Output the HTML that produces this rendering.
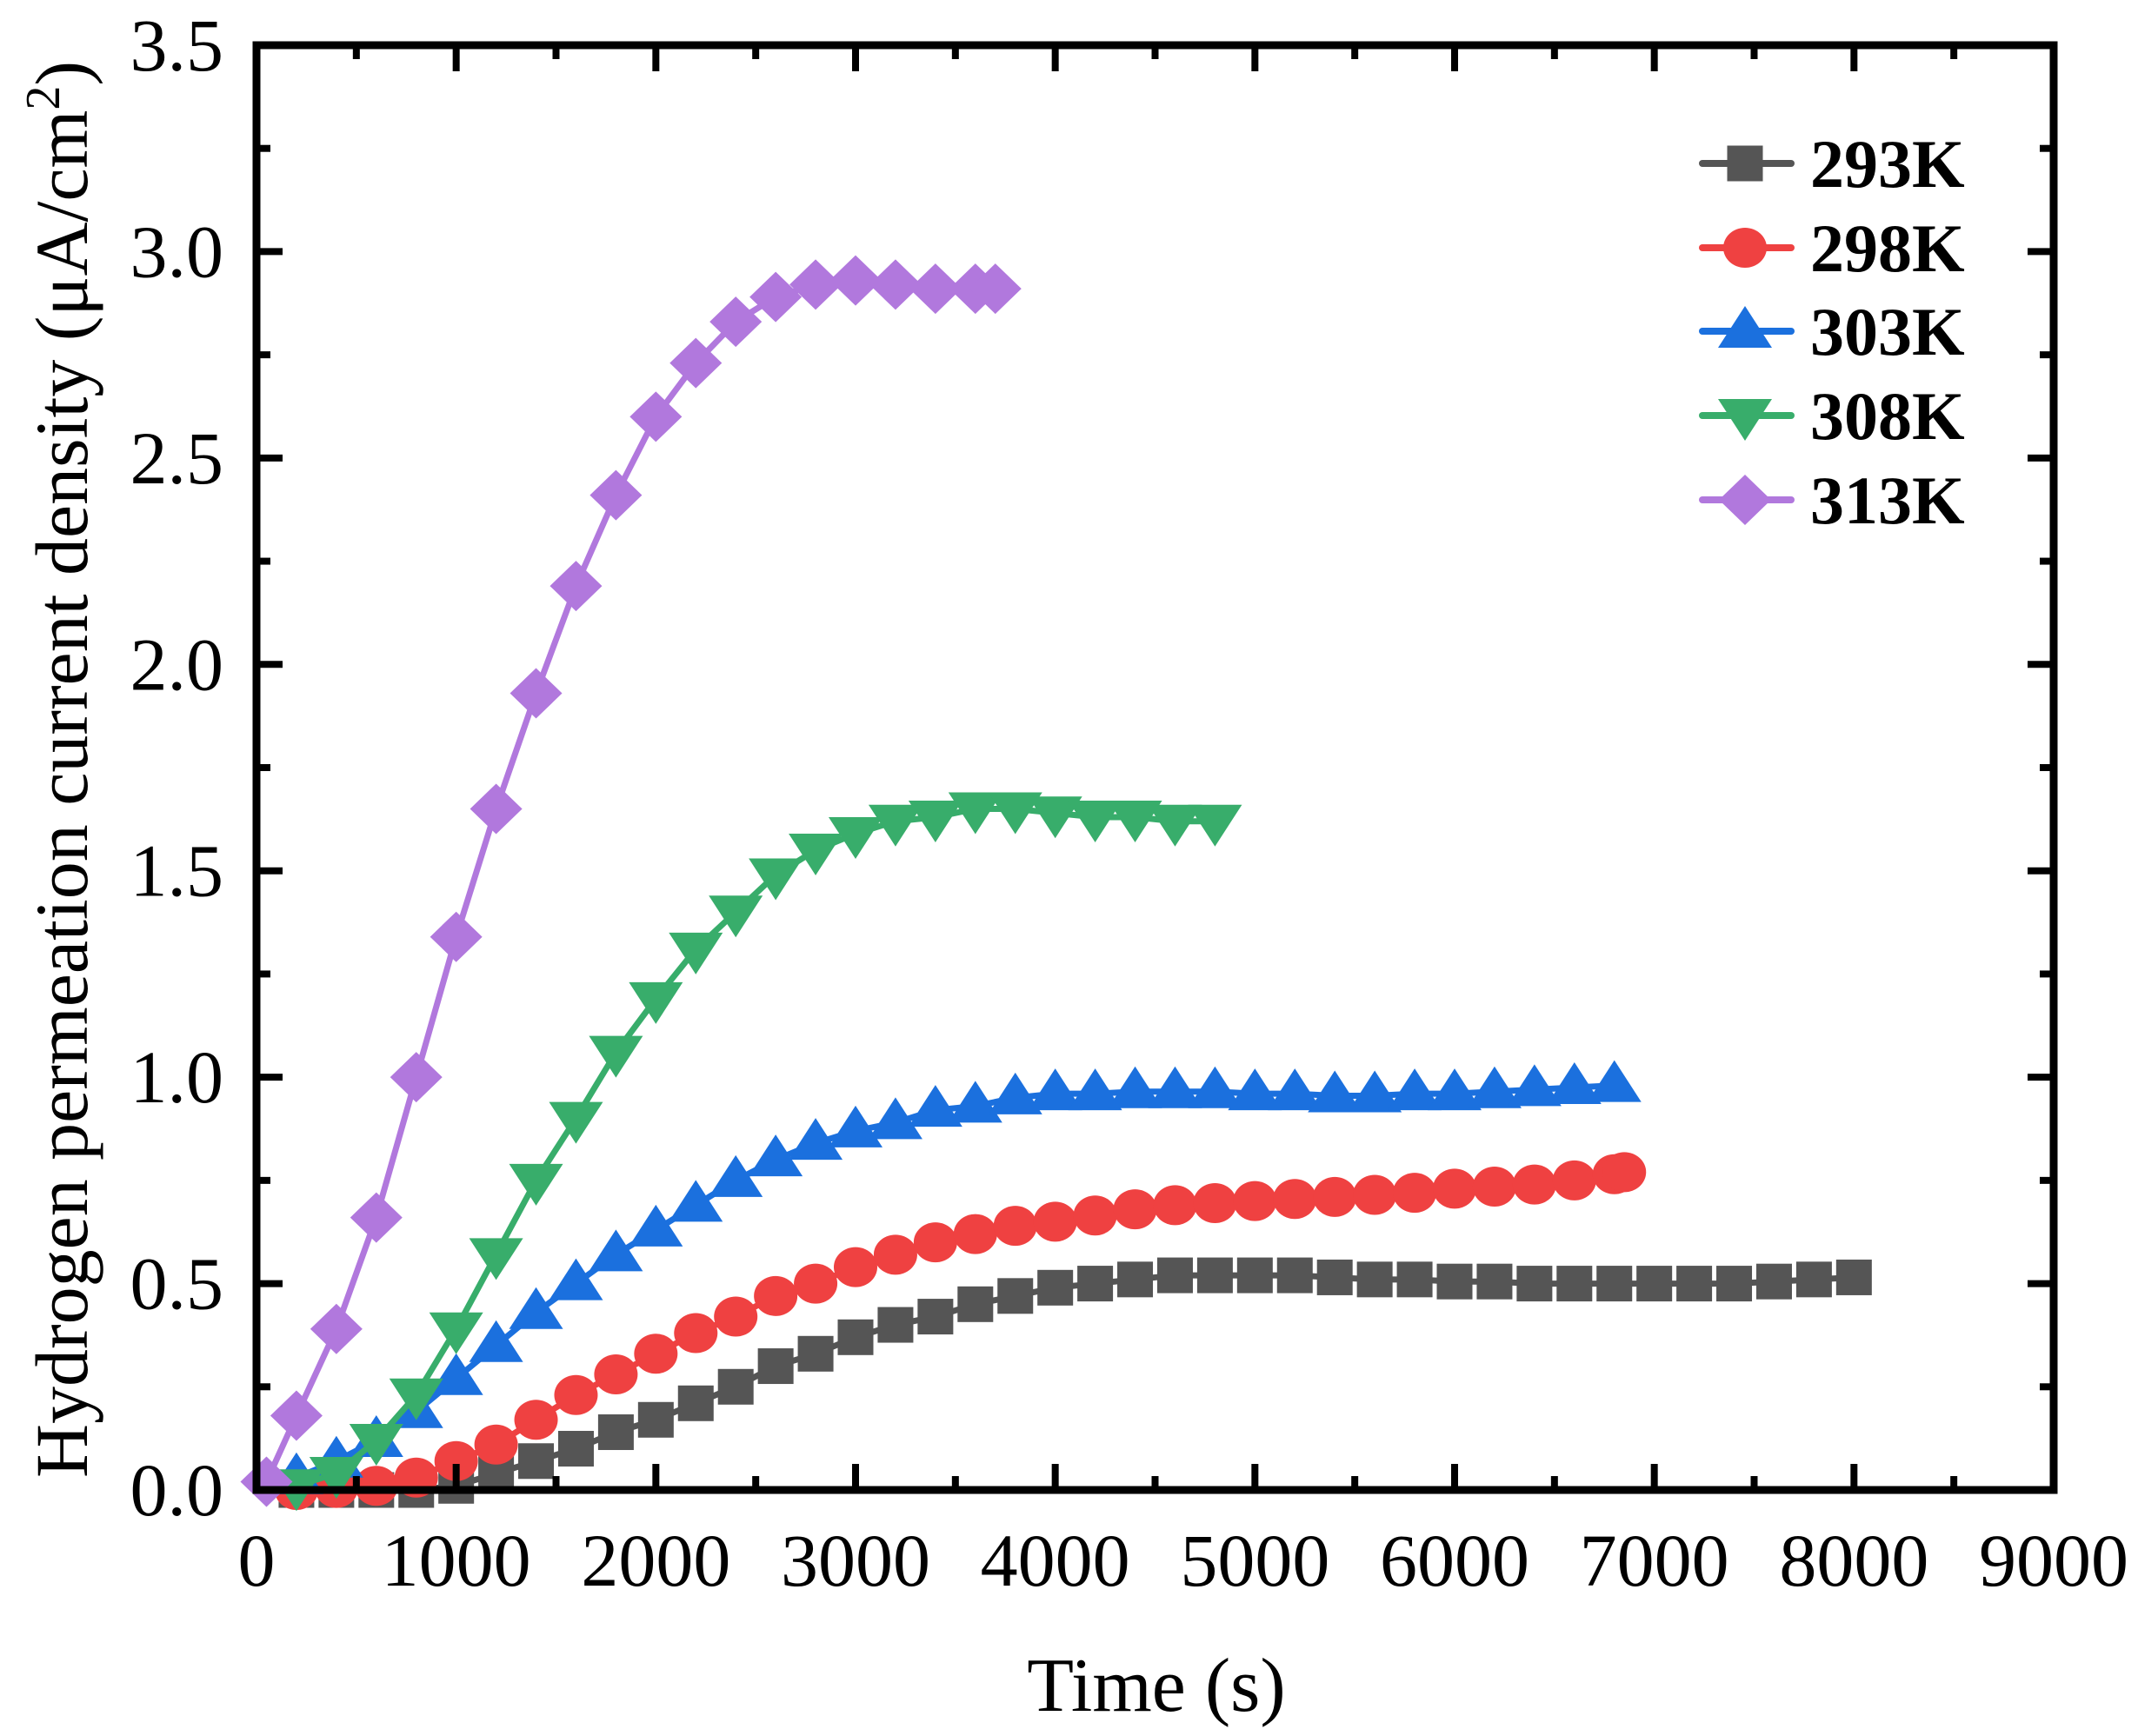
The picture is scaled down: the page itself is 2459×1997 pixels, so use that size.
<!DOCTYPE html>
<html><head><meta charset="utf-8"><style>
html,body{margin:0;padding:0;background:#fff;}
svg{display:block;}
text{font-family:"Liberation Serif","Times New Roman",serif;fill:#000;}
</style></head><body>
<svg id="chart" width="2459" height="1997" viewBox="0 0 2459 1997" xmlns="http://www.w3.org/2000/svg">
<g id="series-layer"></g>
<g id="axes-layer"></g>
<g id="legend"></g>
<text x="1330" y="1968" font-size="88" text-anchor="middle">Time (s)</text>
<text transform="translate(100,885) rotate(-90)" font-size="86" text-anchor="middle" textLength="1630" lengthAdjust="spacingAndGlyphs">Hydrogen permeation current density (μA/cm<tspan font-size="56" dy="-32">2</tspan><tspan dy="32">)</tspan></text>
</svg>
<script>
const xTicks = [0,1000,2000,3000,4000,5000,6000,7000,8000,9000];
const yTicks = [0.0,0.5,1.0,1.5,2.0,2.5,3.0,3.5];
const yTickLabels = ["0.0","0.5","1.0","1.5","2.0","2.5","3.0","3.5"];
const seriesNames = ["293K","298K","303K","308K","313K"];
const seriesColors = ["#555555","#EF4141","#1B70DE","#38AD6B","#B178DD"];
const seriesShapes = ["square","circle","up","down","diamond"];
const t293 = [200,400,600,800,1000,1200,1400,1600,1800,2000,2200,2400,2600,2800,3000,3200,3400,3600,3800,4000,4200,4400,4600,4800,5000,5200,5400,5600,5800,6000,6200,6400,6600,6800,7000,7200,7400,7600,7800,8000];
const v293 = [0,0,0,0,0.01,0.04,0.07,0.10,0.14,0.17,0.21,0.25,0.30,0.33,0.37,0.40,0.42,0.45,0.47,0.49,0.50,0.51,0.52,0.52,0.52,0.52,0.515,0.51,0.51,0.505,0.505,0.50,0.50,0.50,0.50,0.50,0.50,0.505,0.51,0.515];
const t298 = [200,400,600,800,1000,1200,1400,1600,1800,2000,2200,2400,2600,2800,3000,3200,3400,3600,3800,4000,4200,4400,4600,4800,5000,5200,5400,5600,5800,6000,6200,6400,6600,6800,6850];
const v298 = [0,0.005,0.01,0.03,0.07,0.11,0.17,0.23,0.28,0.33,0.38,0.42,0.47,0.50,0.54,0.57,0.60,0.62,0.64,0.65,0.665,0.68,0.69,0.695,0.70,0.705,0.71,0.715,0.72,0.73,0.735,0.74,0.75,0.765,0.77];
const t303 = [200,400,600,800,1000,1200,1400,1600,1800,2000,2200,2400,2600,2800,3000,3200,3400,3600,3800,4000,4200,4400,4600,4800,5000,5200,5400,5600,5800,6000,6200,6400,6600,6800];
const v303 = [0.03,0.07,0.12,0.19,0.27,0.35,0.43,0.50,0.57,0.63,0.69,0.75,0.80,0.84,0.87,0.89,0.92,0.93,0.95,0.96,0.96,0.965,0.965,0.965,0.96,0.96,0.955,0.955,0.96,0.96,0.965,0.97,0.975,0.98];
const t308 = [200,400,600,800,1000,1200,1400,1600,1800,2000,2200,2400,2600,2800,3000,3200,3400,3600,3800,4000,4200,4400,4600,4800];
const v308 = [0.01,0.04,0.12,0.23,0.39,0.57,0.75,0.90,1.06,1.19,1.31,1.40,1.49,1.55,1.59,1.62,1.63,1.65,1.65,1.64,1.63,1.63,1.62,1.62];
const t313 = [50,200,400,600,800,1000,1200,1400,1600,1800,2000,2200,2400,2600,2800,3000,3200,3400,3600,3700];
const v313 = [0.02,0.18,0.39,0.66,1.0,1.34,1.65,1.93,2.19,2.41,2.60,2.73,2.83,2.89,2.92,2.93,2.92,2.91,2.91,2.91];
const seriesT = [t293,t298,t303,t308,t313];
const seriesV = [v293,v298,v303,v308,v313];

const NS="http://www.w3.org/2000/svg";
const L=295,R=2362,T=52,B=1714;
const xMax=9000,yMax=3.5;
function sx(v){return L+(R-L)*v/xMax;}
function sy(v){return B-(B-T)*v/yMax;}
function mk(tag,attrs,parent){const e=document.createElementNS(NS,tag);for(const k in attrs)e.setAttribute(k,attrs[k]);parent.appendChild(e);return e;}
function marker(shape,x,y,color,parent){
  let e;
  if(shape==="square") e=mk("rect",{x:x-20.5,y:y-20.5,width:41,height:41,fill:color},parent);
  else if(shape==="circle") e=mk("ellipse",{cx:x,cy:y,rx:25,ry:23,fill:color},parent);
  else if(shape==="up") e=mk("polygon",{points:`${x},${y-29} ${x-31},${y+19} ${x+31},${y+19}`,fill:color},parent);
  else if(shape==="down") e=mk("polygon",{points:`${x},${y+29} ${x-31},${y-19} ${x+31},${y-19}`,fill:color},parent);
  else e=mk("polygon",{points:`${x},${y-29} ${x+30},${y} ${x},${y+29} ${x-30},${y}`,fill:color},parent);
  return e;
}
const sl=document.getElementById("series-layer");
for(let s=0;s<seriesNames.length;s++){
  const g=mk("g",{},sl);
  
  
  const pts=seriesT[s].map((t,i)=>sx(t)+","+sy(seriesV[s][i])).join(" ");
  const pl=mk("polyline",{points:pts,fill:"none",stroke:seriesColors[s],"stroke-width":7,"stroke-linejoin":"round"},g);
  
  
  for(let i=0;i<seriesT[s].length;i++){
    const m=marker(seriesShapes[s],sx(seriesT[s][i]),sy(seriesV[s][i]),seriesColors[s],g);
    
    
  }
}
const ax=document.getElementById("axes-layer");
const frame=mk("rect",{x:L,y:T,width:R-L,height:B-T,fill:"none",stroke:"#000","stroke-width":9},ax);


for(let v=0;v<=xMax;v+=500){
  const major=v%1000===0, len=major?30:16, x=sx(v);
  mk("line",{x1:x,y1:B,x2:x,y2:B-len,stroke:"#000","stroke-width":8},ax);
  mk("line",{x1:x,y1:T,x2:x,y2:T+len,stroke:"#000","stroke-width":8},ax);
}
for(let k=0;k<=14;k++){
  const v=k*0.25, major=k%2===0, len=major?30:16, y=sy(v);
  mk("line",{x1:L,y1:y,x2:L+len,y2:y,stroke:"#000","stroke-width":8},ax);
  mk("line",{x1:R,y1:y,x2:R-len,y2:y,stroke:"#000","stroke-width":8},ax);
}
xTicks.forEach(v=>{
  const t=mk("text",{x:sx(v),y:1824,"font-size":86,"text-anchor":"middle"},ax);
  t.textContent=String(v);
  
  
});
yTicks.forEach((v,i)=>{
  const t=mk("text",{x:257,y:sy(v)+29,"font-size":86,"text-anchor":"end"},ax);
  t.textContent=yTickLabels[i];
  
  
});
const lg=document.getElementById("legend");
const legY=[188,285,381,478,575];
for(let s=0;s<seriesNames.length;s++){
  const g=mk("g",{},lg);
  
  
  const y=legY[s];
  mk("line",{x1:1958,y1:y,x2:2060,y2:y,stroke:seriesColors[s],"stroke-width":8,"stroke-linecap":"round"},g);
  marker(seriesShapes[s],2007,y,seriesColors[s],g);
  const t=mk("text",{x:2082,y:y+27,"font-size":78,"font-weight":"bold"},g);
  t.textContent=seriesNames[s];
}
</script>
</body></html>
